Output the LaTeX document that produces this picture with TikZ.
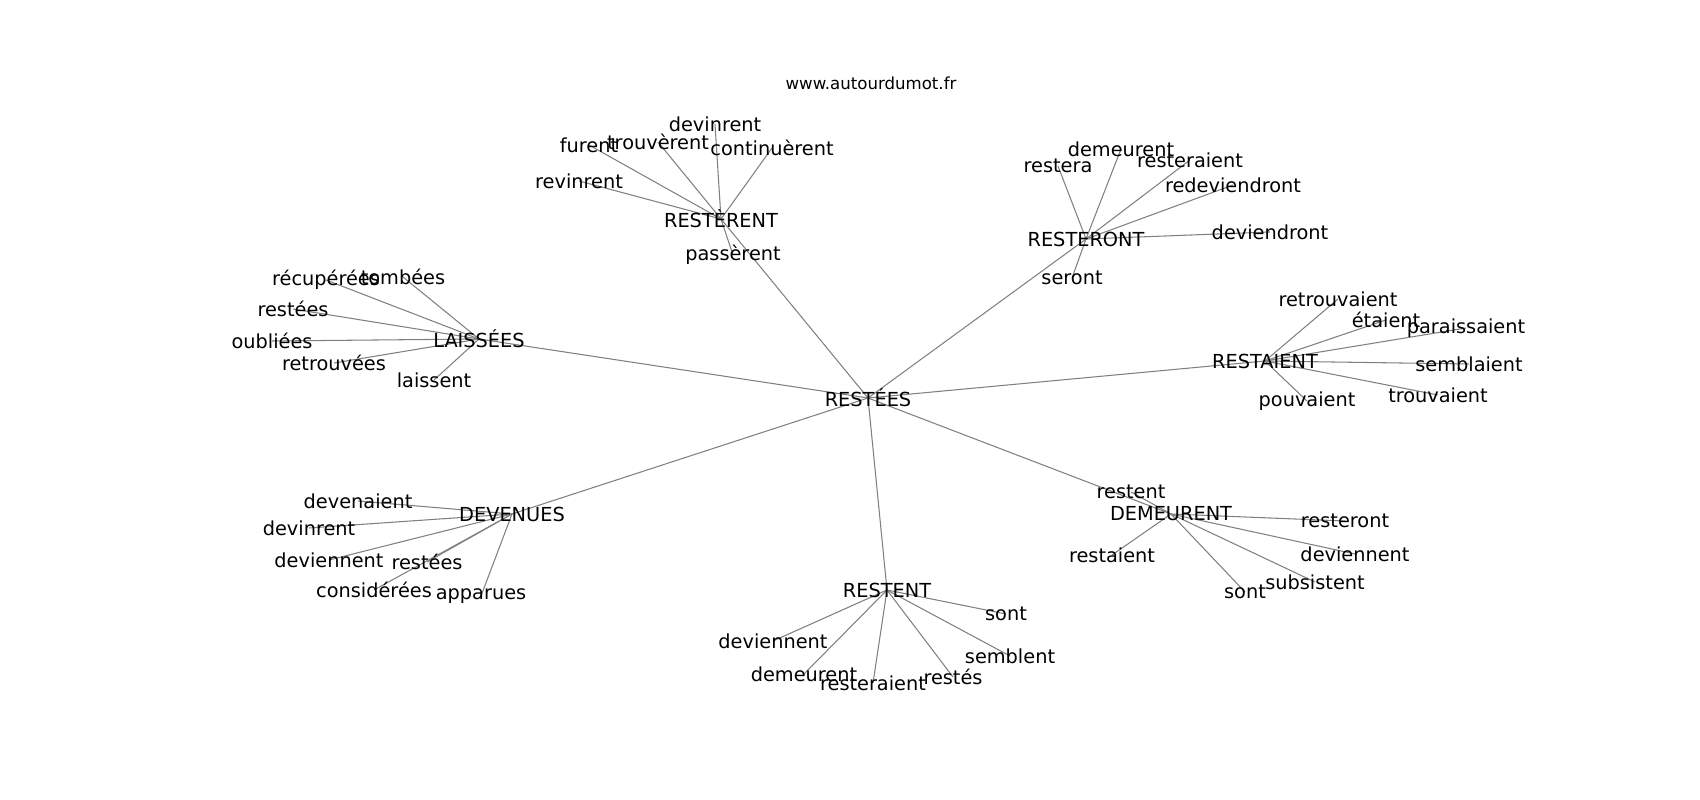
\documentclass[tikz,border=0pt]{standalone}
\usepackage{fontspec}
\setmainfont{DejaVu Sans}
\usetikzlibrary{backgrounds}
\tikzset{
  word/.style={inner sep=0pt, font=\fontsize{11}{13}\selectfont},
  link/.style={draw=gray, line width=0.6pt},
}
\begin{document}
\begin{tikzpicture}[x=0.02cm,y=-0.02cm]
   \useasboundingbox (0,0) rectangle (1700,800);
   \node[inner sep=0pt, font=\fontsize{9.45}{11}\selectfont] (site) at (871,83) {www.autourdumot.fr};
   % centre and its seven neighbours
   \node[word] (restees) at (868,398) {RESTÉES};
   \node[word] (resterent) at (721,219) {RESTÈRENT};
   \node[word] (resteront) at (1086,239) {RESTERONT};
   \node[word] (laissees) at (479,339) {LAISSÉES};
   \node[word] (restaient) at (1265,361) {RESTAIENT};
   \node[word] (devenues) at (512,514) {DEVENUES};
   \node[word] (demeurent) at (1171,514) {DEMEURENT};
   \node[word] (restent) at (887,590) {RESTENT};
   % around RESTÈRENT
   \node[word] (r1devinrent) at (715,124) {devinrent};
   \node[word] (r1furent) at (589,145) {furent};
   \node[word] (r1trouverent) at (658,142) {trouvèrent};
   \node[word] (r1continuerent) at (772,148) {continuèrent};
   \node[word] (r1revinrent) at (579,181) {revinrent};
   \node[word] (r1passerent) at (733,255) {passèrent};
   % around RESTERONT
   \node[word] (r2demeurent) at (1121,149) {demeurent};
   \node[word] (r2restera) at (1058,166) {restera};
   \node[word] (r2resteraient) at (1190,160) {resteraient};
   \node[word] (r2redeviendront) at (1233,185) {redeviendront};
   \node[word] (r2deviendront) at (1270,232) {deviendront};
   \node[word] (r2seront) at (1072,278) {seront};
   % around LAISSÉES
   \node[word] (l1recuperees) at (326,280) {récupérées};
   \node[word] (l1tombees) at (403,277) {tombées};
   \node[word] (l1restees) at (293,309) {restées};
   \node[word] (l1oubliees) at (272,341) {oubliées};
   \node[word] (l1retrouvees) at (334,363) {retrouvées};
   \node[word] (l1laissent) at (434,380) {laissent};
   % around RESTAIENT
   \node[word] (r3retrouvaient) at (1338,299) {retrouvaient};
   \node[word] (r3etaient) at (1386,320) {étaient};
   \node[word] (r3paraissaient) at (1466,328) {paraissaient};
   \node[word] (r3semblaient) at (1469,364) {semblaient};
   \node[word] (r3trouvaient) at (1438,395) {trouvaient};
   \node[word] (r3pouvaient) at (1307,401) {pouvaient};
   % around DEVENUES
   \node[word] (d1devenaient) at (358,501) {devenaient};
   \node[word] (d1devinrent) at (309,528) {devinrent};
   \node[word] (d1deviennent) at (329,560) {deviennent};
   \node[word] (d1restees) at (427,562) {restées};
   \node[word] (d1considerees) at (374,590) {considérées};
   \node[word] (d1apparues) at (481,596) {apparues};
   % around DEMEURENT
   \node[word] (d2restent) at (1131,492) {restent};
   \node[word] (d2resteront) at (1345,521) {resteront};
   \node[word] (d2deviennent) at (1355,554) {deviennent};
   \node[word] (d2subsistent) at (1315,582) {subsistent};
   \node[word] (d2sont) at (1245,592) {sont};
   \node[word] (d2restaient) at (1112,555) {restaient};
   % around RESTENT
   \node[word] (r4sont) at (1006,614) {sont};
   \node[word] (r4semblent) at (1010,656) {semblent};
   \node[word] (r4restes) at (953,677) {restés};
   \node[word] (r4resteraient) at (873,683) {resteraient};
   \node[word] (r4demeurent) at (804,674) {demeurent};
   \node[word] (r4deviennent) at (773,641) {deviennent};
   \begin{scope}[on background layer]
   \foreach \a in {resterent,resteront,laissees,restaient,devenues,demeurent,restent}
      \draw[link] (restees.center) -- (\a.center);
   \foreach \a/\b in {resterent/r1devinrent,resterent/r1furent,resterent/r1trouverent,
      resterent/r1continuerent,resterent/r1revinrent,resterent/r1passerent,
      resteront/r2demeurent,resteront/r2restera,resteront/r2resteraient,
      resteront/r2redeviendront,resteront/r2deviendront,resteront/r2seront,
      laissees/l1recuperees,laissees/l1tombees,laissees/l1restees,
      laissees/l1oubliees,laissees/l1retrouvees,laissees/l1laissent,
      restaient/r3retrouvaient,restaient/r3etaient,restaient/r3paraissaient,
      restaient/r3semblaient,restaient/r3trouvaient,restaient/r3pouvaient,
      devenues/d1devenaient,devenues/d1devinrent,devenues/d1deviennent,
      devenues/d1restees,devenues/d1considerees,devenues/d1apparues,
      demeurent/d2restent,demeurent/d2resteront,demeurent/d2deviennent,
      demeurent/d2subsistent,demeurent/d2sont,demeurent/d2restaient,
      restent/r4sont,restent/r4semblent,restent/r4restes,
      restent/r4resteraient,restent/r4demeurent,restent/r4deviennent}
      \draw[link] (\a.center) -- (\b.center);
   \end{scope}
\end{tikzpicture}
\end{document}
